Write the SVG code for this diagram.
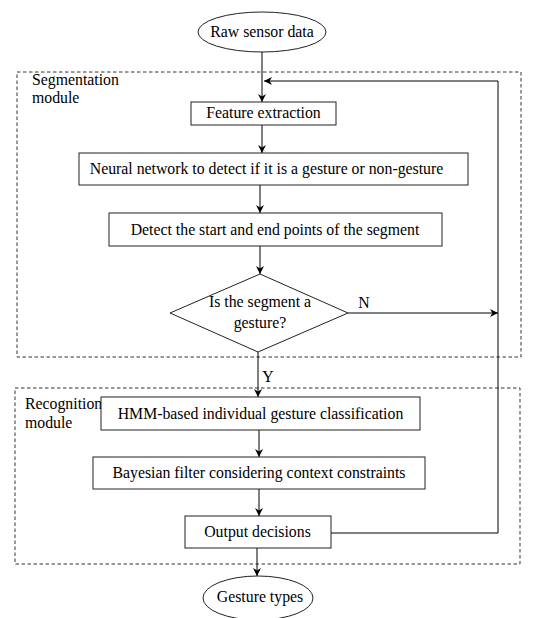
<svg xmlns="http://www.w3.org/2000/svg" width="549" height="618" viewBox="0 0 549 618">
<style>
text{font-family:"Liberation Serif","Times New Roman",serif;font-size:15.8px;fill:#000}
.c{text-anchor:middle}
.b{fill:#fff;stroke:#222;stroke-width:1}
.d{fill:none;stroke:#333;stroke-width:1;stroke-dasharray:3.5,2.5}
.l{fill:none;stroke:#000;stroke-width:1}
</style>
<defs>
<marker id="a" viewBox="0 0 10 10" refX="10" refY="5" markerWidth="8" markerHeight="8" markerUnits="userSpaceOnUse" orient="auto">
<path d="M0,0 L10,5 L0,10 L3,5 z" fill="#000"/>
</marker>
</defs>
<rect x="0" y="0" width="549" height="618" fill="#fff"/>
<g id="segmentation-module">
<rect class="d" x="17" y="72" width="504" height="285"/>
<text x="32" y="85">Segmentation</text>
<text x="32" y="103">module</text>
</g>
<g id="recognition-module">
<rect class="d" x="15" y="388" width="505" height="176"/>
<text x="25" y="409">Recognition</text>
<text x="25" y="428">module</text>
</g>
<g id="connectors">
<line class="l" x1="262" y1="52" x2="262" y2="102" marker-end="url(#a)"/>
<line class="l" x1="262" y1="125" x2="262" y2="153" marker-end="url(#a)"/>
<line class="l" x1="260" y1="185" x2="260" y2="213" marker-end="url(#a)"/>
<line class="l" x1="260" y1="246" x2="260" y2="274" marker-end="url(#a)"/>
<line class="l" x1="348" y1="313" x2="498" y2="313" marker-end="url(#a)"/>
<line class="l" x1="258" y1="352" x2="258" y2="397" marker-end="url(#a)"/>
<line class="l" x1="259" y1="430" x2="259" y2="457" marker-end="url(#a)"/>
<line class="l" x1="259" y1="489" x2="259" y2="516" marker-end="url(#a)"/>
<line class="l" x1="257" y1="548" x2="257" y2="576" marker-end="url(#a)"/>
<polyline class="l" points="331,533 498,533 498,81 264,81" marker-end="url(#a)"/>
<text x="364" y="308" class="c">N</text>
<text x="268" y="382" class="c">Y</text>
</g>
<g id="raw-sensor-data">
<ellipse class="b" cx="262" cy="32" rx="64" ry="20"/>
<text x="262" y="37" class="c">Raw sensor data</text>
</g>
<g id="feature-extraction">
<rect class="b" x="191" y="102" width="145" height="23"/>
<text x="263.5" y="118" class="c">Feature extraction</text>
</g>
<g id="neural-network">
<rect class="b" x="79" y="153" width="389" height="32"/>
<text x="266.5" y="174" class="c">Neural network to detect if it is a gesture or non-gesture</text>
</g>
<g id="detect-points">
<rect class="b" x="109" y="213" width="333" height="33"/>
<text x="275" y="235" class="c">Detect the start and end points of the segment</text>
</g>
<g id="is-gesture">
<polygon class="b" points="260,274 348,313 258,352 170,313"/>
<text x="260" y="307" class="c">Is the segment a</text>
<text x="260" y="328" class="c">gesture?</text>
</g>
<g id="hmm-classification">
<rect class="b" x="101" y="397" width="319" height="33"/>
<text x="260.5" y="419" class="c">HMM-based individual gesture classification</text>
</g>
<g id="bayesian-filter">
<rect class="b" x="93" y="457" width="332" height="32"/>
<text x="259" y="478" class="c">Bayesian filter considering context constraints</text>
</g>
<g id="output-decisions">
<rect class="b" x="185" y="516" width="146" height="32"/>
<text x="257.5" y="537" class="c">Output decisions</text>
</g>
<g id="gesture-types">
<ellipse class="b" cx="258" cy="598" rx="55" ry="22"/>
<text x="260" y="602" class="c">Gesture types</text>
</g>
</svg>
